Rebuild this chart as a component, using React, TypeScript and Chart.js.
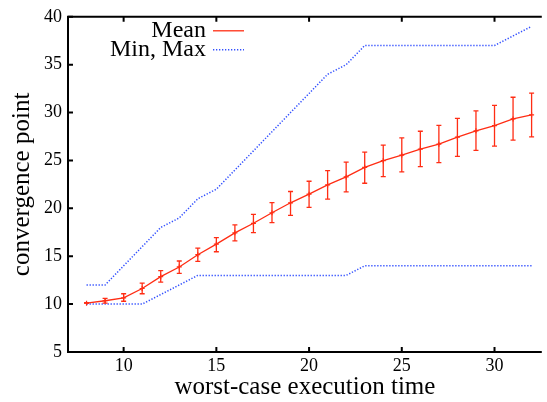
import React, { useEffect, useRef } from "react";
import { Chart, registerables } from "chart.js";

Chart.register(...registerables);

// ---- data ----
const xValues = [8, 9, 10, 11, 12, 13, 14, 15, 16, 17, 18, 19, 20, 21, 22, 23, 24, 25, 26, 27, 28, 29, 30, 31, 32];
const meanValues = [10.1, 10.35, 10.66, 11.63, 12.87, 13.88, 15.16, 16.26, 17.44, 18.44, 19.54, 20.58, 21.48, 22.45, 23.28, 24.28, 24.98, 25.56, 26.18, 26.7, 27.43, 28.09, 28.64, 29.34, 29.75];
const errLow = [10.1, 10.1, 10.3, 11.08, 12.3, 13.2, 14.46, 15.47, 16.6, 17.47, 18.5, 19.27, 20.1, 20.96, 21.72, 22.62, 23.32, 23.8, 24.36, 24.78, 25.43, 26.05, 26.5, 27.12, 27.47];
const errHigh = [10.15, 10.6, 11.08, 12.2, 13.5, 14.5, 15.85, 16.95, 18.27, 19.38, 20.6, 21.76, 22.83, 23.94, 24.83, 25.87, 26.6, 27.36, 28.05, 28.67, 29.4, 30.17, 30.76, 31.6, 32.03];
const maxValues = [12, 12, 14, 16, 18, 19, 21, 22, 24, 26, 28, 30, 32, 34, 35, 37, 37, 37, 37, 37, 37, 37, 37, 38, 39];
const minValues = [10, 10, 10, 10, 11, 12, 13, 13, 13, 13, 13, 13, 13, 13, 13, 14, 14, 14, 14, 14, 14, 14, 14, 14, 14];
const xTicks = [10, 15, 20, 25, 30];
const yTicks = [5, 10, 15, 20, 25, 30, 35, 40];
const xMin = 7;
const xMax = 32.55;
const yMin = 5;
const yMax = 40;
const xLabel = "worst-case execution time";
const yLabel = "convergence point";
const legendMean = "Mean";
const legendMinMax = "Min, Max";

// ---- style ----
const RED = "rgb(255, 45, 20)";
const BLUE = "rgb(50, 80, 255)";
const FONT = "'Liberation Serif', 'Times New Roman', serif";
const DOTS = [1.3, 1.7];

const errorBarPlugin = {
  id: "errorBars",
  afterDatasetsDraw(chart: any) {
    const { ctx, scales } = chart;
    const x = scales.x;
    const y = scales.y;
    ctx.save();
    ctx.strokeStyle = RED;
    ctx.lineWidth = 1.3;
    const cap = 2.5;
    xValues.forEach((xv, i) => {
      const px = x.getPixelForValue(xv);
      const lo = y.getPixelForValue(errLow[i]);
      const hi = y.getPixelForValue(errHigh[i]);
      ctx.beginPath();
      ctx.moveTo(px, lo);
      ctx.lineTo(px, hi);
      ctx.moveTo(px - cap, lo);
      ctx.lineTo(px + cap, lo);
      ctx.moveTo(px - cap, hi);
      ctx.lineTo(px + cap, hi);
      ctx.stroke();
    });
    ctx.restore();
  },
};

const framePlugin = {
  id: "frame",
  afterDraw(chart: any) {
    const { ctx, chartArea, scales } = chart;
    const { left, right, top, bottom } = chartArea;
    const x = scales.x;
    const y = scales.y;
    ctx.save();
    ctx.strokeStyle = "#000";
    ctx.lineWidth = 2;
    ctx.lineJoin = "miter";
    ctx.beginPath();
    ctx.moveTo(right, top);
    ctx.lineTo(left, top);
    ctx.lineTo(left, bottom);
    ctx.lineTo(right, bottom);
    ctx.stroke();
    const tl = 5;
    ctx.beginPath();
    xTicks.forEach((v) => {
      const px = x.getPixelForValue(v);
      ctx.moveTo(px, bottom);
      ctx.lineTo(px, bottom - tl);
      ctx.moveTo(px, top);
      ctx.lineTo(px, top + tl);
    });
    yTicks.forEach((v) => {
      const py = y.getPixelForValue(v);
      ctx.moveTo(left, py);
      ctx.lineTo(left + tl, py);
    });
    ctx.stroke();

    // legend
    const textRight = left + 138;
    const sx0 = left + 145;
    const sx1 = left + 176;
    const row1 = top + 14;
    const row2 = top + 33;
    ctx.font = `24px ${FONT}`;
    ctx.fillStyle = "#000";
    ctx.textAlign = "right";
    ctx.textBaseline = "middle";
    ctx.fillText(legendMean, textRight, row1);
    ctx.fillText(legendMinMax, textRight, row2);
    ctx.lineWidth = 1.3;
    ctx.strokeStyle = RED;
    ctx.beginPath();
    ctx.moveTo(sx0, row1);
    ctx.lineTo(sx1, row1);
    ctx.stroke();
    ctx.strokeStyle = BLUE;
    ctx.lineWidth = 1.5;
    ctx.setLineDash(DOTS);
    ctx.beginPath();
    ctx.moveTo(sx0, row2);
    ctx.lineTo(sx1, row2);
    ctx.stroke();
    ctx.restore();
  },
};

export default function App() {
  const canvasRef = useRef<HTMLCanvasElement | null>(null);

  useEffect(() => {
    document.body.style.margin = "0";
    const canvas = canvasRef.current;
    if (!canvas) return;
    const chart = new Chart(canvas, {
      type: "line",
      data: {
        datasets: [
          {
            label: legendMean,
            data: xValues.map((xv, i) => ({ x: xv, y: meanValues[i] })),
            borderColor: RED,
            backgroundColor: RED,
            borderWidth: 1.3,
            pointStyle: "cross",
            pointRadius: 2.5,
            pointBorderWidth: 1.2,
            pointBorderColor: RED,
            tension: 0,
            fill: false,
          },
          {
            label: legendMinMax,
            data: xValues.map((xv, i) => ({ x: xv, y: maxValues[i] })),
            borderColor: BLUE,
            borderWidth: 1.5,
            borderDash: DOTS,
            pointRadius: 0,
            tension: 0,
            fill: false,
          },
          {
            label: "Min",
            data: xValues.map((xv, i) => ({ x: xv, y: minValues[i] })),
            borderColor: BLUE,
            borderWidth: 1.5,
            borderDash: DOTS,
            pointRadius: 0,
            tension: 0,
            fill: false,
          },
        ],
      },
      options: {
        animation: false,
        responsive: false,
        devicePixelRatio: 1,
        layout: { padding: { top: 14, right: 0, left: 0, bottom: 0 } },
        plugins: {
          legend: { display: false },
          tooltip: { enabled: false },
          title: { display: false },
        },
        scales: {
          x: {
            type: "linear",
            min: xMin,
            max: xMax,
            grid: { display: false, drawTicks: false },
            border: { display: false },
            afterBuildTicks: (scale: any) => {
              scale.ticks = xTicks.map((v) => ({ value: v }));
            },
            afterFit: (scale: any) => {
              scale.height = 50;
            },
            ticks: {
              padding: 3,
              color: "#000",
              font: { family: FONT, size: 18 },
              maxRotation: 0,
              autoSkip: false,
            },
            title: {
              display: true,
              text: xLabel,
              color: "#000",
              font: { family: FONT, size: 25 },
              padding: { top: 5, bottom: 0 },
            },
          },
          y: {
            type: "linear",
            min: yMin,
            max: yMax,
            grid: { display: false, drawTicks: false },
            border: { display: false },
            afterBuildTicks: (scale: any) => {
              scale.ticks = yTicks.map((v) => ({ value: v }));
            },
            afterFit: (scale: any) => {
              scale.width = 68;
            },
            ticks: {
              padding: 6,
              color: "#000",
              font: { family: FONT, size: 18 },
            },
            title: {
              display: true,
              text: yLabel,
              color: "#000",
              font: { family: FONT, size: 25 },
              padding: { top: 7, bottom: 0 },
            },
          },
        },
      },
      plugins: [errorBarPlugin, framePlugin],
    } as any);
    return () => chart.destroy();
  }, []);

  return (
    <div style={{ width: 547, height: 402 }}>
      <canvas ref={canvasRef} width={547} height={402} />
    </div>
  );
}
